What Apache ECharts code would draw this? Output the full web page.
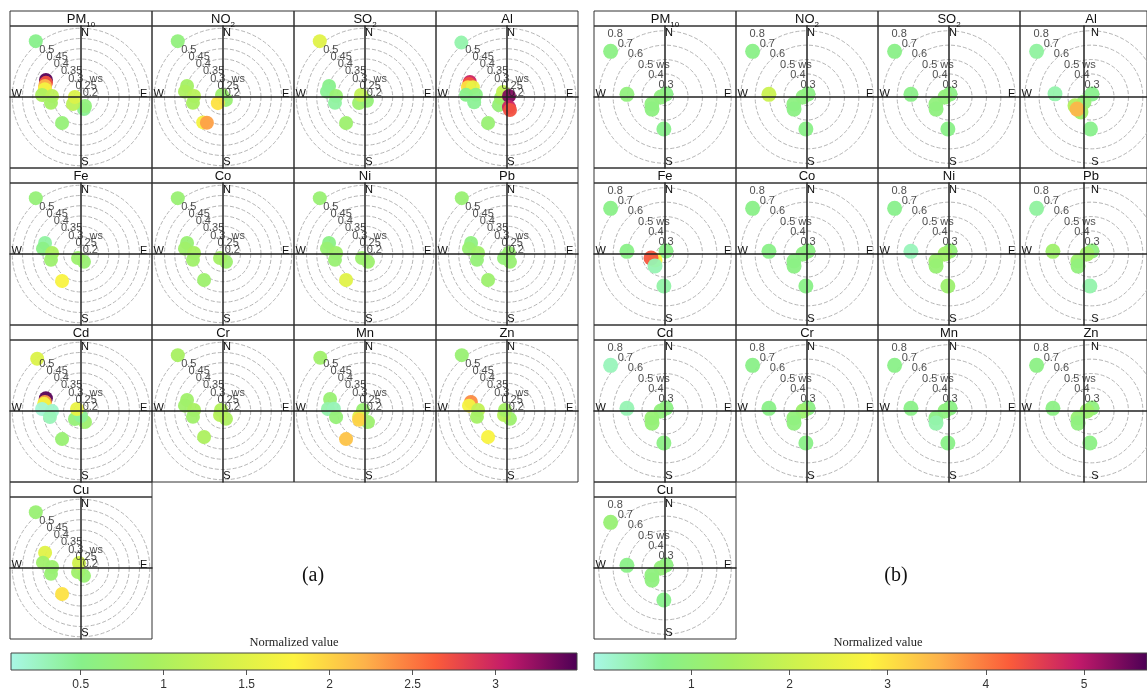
<!DOCTYPE html>
<html><head><meta charset="utf-8">
<script src="https://cdn.jsdelivr.net/npm/echarts@6/dist/echarts.min.js"></script>
<style>html,body{margin:0;padding:0;background:#fff}#c{width:1147px;height:696px}</style>
</head><body><div id="c"></div>
<script>
// ---------- DATA ----------
const variables = ['PM10','NO2','SO2','Al','Fe','Co','Ni','Pb','Cd','Cr','Mn','Zn','Cu'];
// each point: [wind speed (ws), wind direction (deg from N), normalized value]
// Panel (a)
const A_PM10 = [[0.565,321,0.5],[0.405,296,3.45],[0.399,292,2.7],[0.398,287,2.2],[0.395,282,1.7],[0.405,273,1.0],[0.356,272,1.15],[0.364,259,0.9],[0.372,216,0.7],[0.275,166,0.45],[0.263,156,0.65],[0.267,229,1.15],[0.245,270,1.45]];
const A_NO2 = [[0.565,321,0.65],[0.398,287,0.9],[0.402,278,1.0],[0.356,272,1.1],[0.364,259,0.95],[0.372,218,1.7],[0.363,212,2.3],[0.226,333,0.8],[0.235,135,0.75],[0.254,220,1.9]];
const A_SO2 = [[0.565,321,1.5],[0.398,287,0.5],[0.402,278,0.45],[0.356,272,0.75],[0.364,259,0.4],[0.372,216,0.8],[0.256,225,0.8],[0.236,153,0.7],[0.237,297,1.2]];
const A_Al = [[0.561,320,0.35],[0.410,292,3.0],[0.410,289,2.7],[0.411,284,1.9],[0.388,286,1.6],[0.415,273,0.5],[0.367,274,0.55],[0.377,261,0.45],[0.372,216,0.75],[0.270,225,0.7],[0.245,261,0.8],[0.246,321,1.2],[0.226,63,3.3],[0.265,169,3.0],[0.280,167,2.7]];
const A_Fe = [[0.565,321,0.7],[0.398,287,0.4],[0.402,278,0.55],[0.356,272,1.0],[0.364,259,0.8],[0.376,215,1.75],[0.256,159,0.75],[0.239,217,0.8]];
const A_Co = [[0.565,321,0.75],[0.398,287,0.75],[0.402,278,0.85],[0.356,272,0.95],[0.364,259,0.85],[0.372,216,0.8],[0.256,159,0.8],[0.239,217,0.9]];
const A_Ni = [[0.565,321,0.75],[0.398,287,0.55],[0.402,278,0.75],[0.356,272,0.85],[0.364,259,0.75],[0.372,216,1.5],[0.256,159,0.8],[0.239,217,0.8]];
const A_Pb = [[0.565,321,0.75],[0.398,287,0.6],[0.402,278,0.75],[0.356,272,0.85],[0.364,259,0.7],[0.372,216,0.8],[0.256,159,0.75],[0.239,217,0.7],[0.226,63,0.75]];
const A_Cd = [[0.547,320,1.45],[0.397,290,3.45],[0.396,284,2.3],[0.398,281,1.7],[0.405,273,0.15],[0.356,270,0.2],[0.369,259,0.3],[0.380,214,0.75],[0.272,160,0.8],[0.264,217,0.7],[0.239,180,0.45],[0.237,297,1.6]];
const A_Cr = [[0.565,321,0.95],[0.398,287,0.85],[0.402,278,0.85],[0.356,272,0.95],[0.364,259,0.85],[0.372,216,1.0],[0.256,159,1.0],[0.239,217,1.1],[0.226,297,1.05]];
const A_Mn = [[0.554,320,0.85],[0.395,289,0.75],[0.396,273,0.35],[0.367,274,0.3],[0.359,258,0.7],[0.380,214,2.1],[0.271,165,0.8],[0.226,297,0.75],[0.255,225,1.5],[0.267,214,2.0]];
const A_Zn = [[0.565,321,0.75],[0.396,284,2.4],[0.402,278,1.7],[0.356,272,1.2],[0.364,259,0.9],[0.372,216,1.75],[0.256,159,0.8],[0.239,217,1.1],[0.226,297,0.9]];
const A_Cu = [[0.565,321,0.75],[0.405,293,1.5],[0.402,278,0.85],[0.356,272,0.8],[0.364,259,0.75],[0.372,216,1.9],[0.256,159,0.75],[0.239,217,0.85],[0.241,338,1.35]];
// Panel (b)
const B_PM10 = [[0.733,310,0.8],[0.505,274,0.95],[0.262,18,0.75],[0.268,270,0.9],[0.343,242,0.9],[0.363,227,0.85],[0.462,182,0.7]];
const B_NO2 = [[0.733,310,0.75],[0.505,274,2.0],[0.262,18,0.8],[0.268,270,0.9],[0.343,242,0.85],[0.363,227,0.8],[0.462,182,0.75]];
const B_SO2 = [[0.733,310,0.75],[0.505,274,0.75],[0.262,18,0.8],[0.268,270,1.0],[0.343,242,0.95],[0.363,227,0.9],[0.462,182,0.75]];
const B_Al = [[0.733,310,0.55],[0.491,275,0.45],[0.262,18,0.7],[0.300,234,1.0],[0.365,214,1.3],[0.367,241,1.6],[0.368,229,3.5],[0.462,181,0.7]];
const B_Fe = [[0.733,310,0.75],[0.505,274,0.75],[0.262,18,0.75],[0.321,239,2.8],[0.341,254,4.3],[0.348,220,0.4],[0.462,182,0.5]];
const B_Co = [[0.733,310,0.75],[0.505,274,0.75],[0.262,18,0.8],[0.268,270,0.85],[0.343,242,0.8],[0.363,227,0.8],[0.462,182,0.75]];
const B_Ni = [[0.733,310,0.7],[0.505,274,0.35],[0.262,18,1.0],[0.268,270,1.3],[0.343,242,1.2],[0.363,227,1.1],[0.462,182,1.2]];
const B_Pb = [[0.733,310,0.55],[0.505,274,1.25],[0.262,18,0.9],[0.268,270,1.3],[0.343,242,1.2],[0.363,227,0.95],[0.462,182,0.45]];
const B_Cd = [[0.733,310,0.35],[0.505,274,0.4],[0.262,18,0.8],[0.268,270,0.95],[0.343,242,1.1],[0.363,227,1.05],[0.462,182,0.8]];
const B_Cr = [[0.733,310,0.75],[0.505,274,0.75],[0.262,18,0.8],[0.268,270,1.2],[0.343,242,1.0],[0.363,227,0.9],[0.462,182,0.75]];
const B_Mn = [[0.733,310,0.75],[0.505,274,0.75],[0.262,18,0.8],[0.268,270,0.9],[0.343,242,0.8],[0.363,227,0.45],[0.462,182,0.75]];
const B_Zn = [[0.733,310,0.8],[0.505,274,0.8],[0.262,18,0.9],[0.268,270,1.2],[0.343,242,1.1],[0.363,227,0.9],[0.462,182,0.8]];
const B_Cu = [[0.733,310,1.1],[0.505,274,0.75],[0.262,18,0.85],[0.268,270,1.0],[0.343,242,0.9],[0.363,227,0.9],[0.462,182,0.7]];

const compass = ['N','E','S','W'];
const compassDeg = [0,90,180,270];
const wsCirclesA = [0.25,0.3,0.35,0.4,0.45,0.5,0.55];
const wsLabelsA = [0.5,0.45,0.4,0.35,0.3,0.25,0.2];
const wsCirclesB = [0.3,0.4,0.5,0.6,0.7];
const wsLabelsB = [0.8,0.7,0.6,0.5,0.4,0.3];
const rangeA = [0.08, 3.49];
const rangeB = [0.01, 5.64];
const ticksA = [0.5,1,1.5,2,2.5,3];
const ticksB = [1,2,3,4,5];
const palette = ['#a9f7e6','#88f08a','#a6f062','#d2f24c','#fdf33f','#fdb24a','#fb5c3a','#c21a6a','#4c0055'];

// ---------- LAYOUT ----------
const S = 135;
const COLW = 142, ROWH = 157, TOP = 11, HEAD = 15;
const panels = [
  {left:10, cells:[A_PM10,A_NO2,A_SO2,A_Al,A_Fe,A_Co,A_Ni,A_Pb,A_Cd,A_Cr,A_Mn,A_Zn,A_Cu],
   wsMin:0.215, wsMax:0.556, circles:wsCirclesA, labels:wsLabelsA, wsName:0.3, wsSuffix:'  ws', size:14,
   range:rangeA, ticks:ticksA, cbLeft:11, cbWidth:566, tag:'(a)', tagX:313},
  {left:594, cells:[B_PM10,B_NO2,B_SO2,B_Al,B_Fe,B_Co,B_Ni,B_Pb,B_Cd,B_Cr,B_Mn,B_Zn,B_Cu],
   wsMin:0.24, wsMax:0.726, circles:wsCirclesB, labels:wsLabelsB, wsName:0.5, wsSuffix:' ws', size:15,
   range:rangeB, ticks:ticksB, cbLeft:594, cbWidth:568, tag:'(b)', tagX:896}
];
const RADIUS = 70, ANG_MARGIN = -11;

const grid=[], xAxis=[], yAxis=[], polar=[], angleAxis=[], radiusAxis=[], series=[], title=[], visualMap=[];
const sansFont = 'Liberation Sans';
const serifFont = 'Liberation Serif';
const angMin = 90 - S, angMax = 450 - S;
const compassRich = {
  n:{fontSize:11, fontFamily:sansFont, color:'#111', padding:[0,0,0,8]},
  e:{fontSize:11, fontFamily:sansFont, color:'#111', padding:[0,0,7,0]},
  s:{fontSize:11, fontFamily:sansFont, color:'#111', padding:[0,0,0,8]},
  w:{fontSize:11, fontFamily:sansFont, color:'#111', padding:[0,0,7,0]}
};

function richName(n){
  const m = n.match(/^([A-Za-z]+)(\d*)$/);
  return '{m|' + m[1] + '}' + (m[2] ? '{s|' + m[2] + '}' : '');
}

panels.forEach((p, pi) => {
  const idx = [];
  p.cells.forEach((cell, i) => {
    const col = i % 4, row = Math.floor(i / 4);
    const x0 = p.left + col * COLW, y0 = TOP + row * ROWH;
    const gh = grid.length;
    grid.push({left:x0, top:y0, width:COLW, height:HEAD, show:true, borderColor:'#333', borderWidth:1});
    xAxis.push({gridIndex:gh, type:'value', show:false, min:0, max:1});
    yAxis.push({gridIndex:gh, type:'value', show:false, min:0, max:1});
    title.push({text:richName(variables[i]), left:x0 + COLW/2, top:y0 + 1, textAlign:'center', padding:0,
      textStyle:{fontFamily:sansFont, fontWeight:'normal', color:'#111',
        rich:{m:{fontSize:13, fontFamily:sansFont, color:'#111', lineHeight:14, verticalAlign:'bottom'},
              s:{fontSize:8, fontFamily:sansFont, color:'#111', lineHeight:14, verticalAlign:'bottom', padding:[0,0,-3,0]}}}});
    const gp = grid.length;
    grid.push({left:x0, top:y0 + HEAD, width:COLW, height:ROWH - HEAD, show:true, borderColor:'#333', borderWidth:1});
    const ax = {type:'value', min:-1, max:1, z:5,
      axisLine:{show:true, onZero:true, lineStyle:{color:'#222', width:1.5}},
      axisTick:{show:false}, axisLabel:{show:false}, splitLine:{show:false}};
    xAxis.push(Object.assign({gridIndex:gp}, ax));
    yAxis.push(Object.assign({gridIndex:gp}, ax));
    const pIdx = polar.length;
    polar.push({center:[x0 + COLW/2, y0 + HEAD + (ROWH - HEAD)/2], radius:RADIUS});
    angleAxis.push({polarIndex:pIdx, type:'value', min:angMin, max:angMax, startAngle:S, clockwise:true,
      axisLine:{show:false}, axisTick:{show:false}, splitLine:{show:false},
      axisLabel:{customValues:compassDeg, margin:ANG_MARGIN, color:'#111', fontSize:11, fontFamily:sansFont, rich:compassRich,
        formatter:v => { const k = compassDeg.indexOf(Math.round(v)); return k >= 0 ? '{' + compass[k].toLowerCase() + '|' + compass[k] + '}' : ''; }}});
    radiusAxis.push({polarIndex:pIdx, type:'value', min:p.wsMin, max:p.wsMax,
      axisLine:{show:false}, axisTick:{show:false, customValues:p.circles},
      axisLabel:{show:false, customValues:p.circles},
      splitLine:{show:true, lineStyle:{color:'#b5b5b5', type:'dashed', width:1}}});
    idx.push(series.length);
    series.push({type:'scatter', coordinateSystem:'polar', polarIndex:pIdx, clip:false, silent:true,
      symbolSize:p.size, itemStyle:{opacity:0.95},
      data:cell.map(d => [d[0], d[1] > angMax ? d[1] - 360 : d[1], d[2]])});
    series.push({type:'scatter', coordinateSystem:'polar', polarIndex:pIdx, clip:false, silent:true, z:4,
      symbolSize:1, itemStyle:{color:'rgba(0,0,0,0)'},
      label:{show:true, position:[0,0], align:'left', verticalAlign:'bottom', fontSize:11, fontFamily:sansFont, color:'#222',
        formatter:prm => prm.data[2]},
      data:p.labels.map(v => [v, 315, String(v) + (Math.abs(v - p.wsName) < 1e-9 ? p.wsSuffix : '')])});
  });
  visualMap.push({type:'continuous', show:false, min:p.range[0], max:p.range[1], dimension:2,
    seriesIndex:idx, inRange:{color:palette}});

  title.push({text:p.tag, left:p.tagX, top:566, textAlign:'center', padding:0,
    textStyle:{fontFamily:serifFont, fontSize:20, fontWeight:'normal', color:'#111'}});
  title.push({text:'Normalized value', left:p.cbLeft + p.cbWidth/2, top:636, textAlign:'center', padding:0,
    textStyle:{fontFamily:serifFont, fontSize:12.5, fontWeight:'normal', color:'#222'}});
  const gc = grid.length;
  grid.push({left:p.cbLeft, top:653, width:p.cbWidth, height:17, show:false});
  xAxis.push({gridIndex:gc, type:'value', min:p.range[0], max:p.range[1],
    axisLine:{show:false},
    axisTick:{show:true, customValues:p.ticks, length:5, lineStyle:{color:'#555', width:1}},
    axisLabel:{customValues:p.ticks, color:'#333', fontSize:12, fontFamily:sansFont, margin:9},
    splitLine:{show:false}});
  yAxis.push({gridIndex:gc, type:'value', min:0, max:1, show:false});
  const stops = palette.map((c, k) => ({offset:k/(palette.length-1), color:c}));
  series.push({type:'custom', xAxisIndex:xAxis.length-1, yAxisIndex:yAxis.length-1, silent:true,
    data:[[p.range[0], p.range[1]]], encode:{x:[0,1]},
    renderItem:(params, api) => {
      const a = api.coord([api.value(0), 0]);
      const b = api.coord([api.value(1), 1]);
      return {type:'rect', shape:{x:a[0], y:b[1], width:b[0]-a[0], height:a[1]-b[1]},
        style:{fill:new echarts.graphic.LinearGradient(0,0,1,0,stops), stroke:'#444', lineWidth:1}};
    }});
});

const chart = echarts.init(document.getElementById('c'), null, {renderer:'canvas'});
chart.setOption({
  animation:false, backgroundColor:'#ffffff',
  title, grid, xAxis, yAxis, polar, angleAxis, radiusAxis, visualMap, series
});
</script></body></html>
